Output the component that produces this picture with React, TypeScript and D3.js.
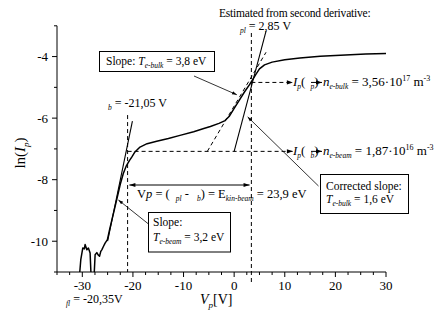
import React from 'react';
import * as d3 from 'd3';

// probe characteristic, ln(Ip) vs Vp
const probeCurve: [number, number][] = [
  [-30.7, -11.4], [-30.3, -10.6], [-29.9, -10.22], [-29.6, -10.25], [-29.45, -10.11],
  [-29.1, -10.28], [-28.8, -10.22], [-28.46, -10.38], [-28.2, -11.4], [-27.75, -11.4],
  [-27.47, -10.44], [-27.13, -10.37], [-26.85, -10.45], [-26.6, -10.49], [-26.35, -10.33],
  [-26.15, -10.28], [-25.83, -10.17], [-25.5, -10.06], [-25.04, -9.95], [-24.6, -9.62],
  [-24.0, -9.2], [-23.2, -8.65], [-22.5, -8.15], [-21.9, -7.8], [-21.3, -7.55],
  [-20.7, -7.38], [-20.2, -7.26], [-19.6, -7.1], [-18.6, -6.94], [-17.2, -6.83],
  [-15.3, -6.75], [-13, -6.66], [-10.7, -6.56], [-8, -6.44], [-6, -6.34],
  [-4.7, -6.27], [-3, -6.17], [-1.8, -6.08], [-1.0, -5.95], [0, -5.68],
  [1, -5.42], [2, -5.16], [3, -4.92], [3.5, -4.79], [4.2, -4.6],
  [5, -4.4], [6, -4.27], [7.5, -4.18], [10, -4.1], [13, -4.05],
  [17, -3.99], [22, -3.95], [26, -3.92], [30, -3.9],
];

// fitted lines (endpoints in data units)
const beamFit: [number, number][] = [[-25.0, -10.0], [-20.1, -6.1]];
const bulkCorrectedFit: [number, number][] = [[0.0, -7.08], [6.3, -3.17]];
const bulkTangent: [number, number][] = [[-5.3, -7.08], [6.3, -3.86]];

// characteristic potentials
const vBeam = -21.05;
const vPlasma = 3.4; // where the line sits on the plot (label says 2,85 V)
const lnBulk = -4.84;
const lnBeam = -7.08;
const arrowEnd = 11.6;

const xTicks = [-30, -20, -10, 0, 10, 20, 30];
const yTicks = [-10, -8, -6, -4];

const W = 442;
const H = 322;
const FONT = "'Liberation Serif', 'Times New Roman', Times, 'DejaVu Serif', serif";

export default function App() {
  const x = d3.scaleLinear().domain([-35, 30]).range([57, 386]);
  const y = d3.scaleLinear().domain([-11, -3]).range([272, 25.8]);
  const line = d3.line<[number, number]>().x(d => x(d[0])).y(d => y(d[1]));

  const xMinor = d3.range(-35, 30.01, 2.5);
  const yMinor = d3.range(-11, -2.99, 1);

  const sub = (s: string, dx = 0) => (
    <tspan fontSize={7.5} fontStyle="italic" dy={3} dx={dx}>{s}</tspan>
  );

  return (
    <svg width={W} height={H}
      style={{ position: 'absolute', left: 0, top: 0, background: '#fff', fontFamily: FONT }}>
      <defs>
        <marker id="ah" viewBox="0 0 10 10" refX={10} refY={5} markerWidth={7} markerHeight={6}
          orient="auto-start-reverse">
          <path d="M0,1.5 L10,5 L0,8.5 z" fill="#000" />
        </marker>
        <clipPath id="plot">
          <rect x={x(-35)} y={y(-3) - 20} width={x(30) - x(-35)} height={y(-11) - y(-3) + 20} />
        </clipPath>
      </defs>

      {/* axes */}
      <line x1={x(-35)} x2={x(30)} y1={y(-11)} y2={y(-11)} stroke="#000" />
      <line x1={x(-35)} x2={x(-35)} y1={y(-11)} y2={y(-3)} stroke="#000" />
      {xMinor.map(t => (
        <line key={'xm' + t} x1={x(t)} x2={x(t)} y1={y(-11)}
          y2={y(-11) + (xTicks.includes(t) ? 5 : 3)} stroke="#000" />
      ))}
      {yMinor.map(t => (
        <line key={'ym' + t} x1={x(-35)} x2={x(-35) - (yTicks.includes(t) ? 5 : 3)}
          y1={y(t)} y2={y(t)} stroke="#000" />
      ))}
      {xTicks.map(t => (
        <text key={'xl' + t} x={x(t)} y={290} fontSize={13} textAnchor="middle">{t}</text>
      ))}
      {yTicks.map(t => (
        <text key={'yl' + t} x={48} y={y(t) + 4.5} fontSize={13} textAnchor="end">{t}</text>
      ))}

      {/* axis titles */}
      <text x={200} y={304} fontSize={14}>
        <tspan fontStyle="italic">V</tspan>
        <tspan fontSize={9} fontStyle="italic" dy={4}>p</tspan>
        <tspan dy={-4}>[V]</tspan>
      </text>
      <text transform="translate(25,153) rotate(-90)" fontSize={15} textAnchor="middle">
        ln(<tspan fontStyle="italic">I</tspan>
        <tspan fontSize={9} fontStyle="italic" dy={4}>p</tspan>
        <tspan dy={-4}>)</tspan>
      </text>

      {/* dashed guide lines */}
      <g stroke="#000" strokeDasharray="4,3" fill="none">
        <line x1={x(vBeam)} x2={x(vBeam)} y1={y(-5.9)} y2={y(-11)} />
        <line x1={x(vPlasma)} x2={x(vPlasma)} y1={33} y2={283} />
        <line x1={x(vBeam)} x2={x(arrowEnd)} y1={y(lnBeam)} y2={y(lnBeam)} markerEnd="url(#ah)" />
        <line x1={x(vPlasma)} x2={x(arrowEnd)} y1={y(lnBulk)} y2={y(lnBulk)} markerEnd="url(#ah)" />
        <path d={line(bulkTangent) || ''} />
      </g>

      {/* fits and curve */}
      <g clipPath="url(#plot)" fill="none" stroke="#000">
        <path d={line(beamFit) || ''} strokeWidth={1.1} />
        <path d={line(bulkCorrectedFit) || ''} strokeWidth={1.1} />
        <path d={line(probeCurve) || ''} strokeWidth={1.5} strokeLinejoin="round" />
      </g>

      {/* energy double arrow */}
      <line x1={x(vBeam + 0.35)} x2={x(vPlasma - 0.35)} y1={185} y2={185} stroke="#000"
        markerStart="url(#ah)" markerEnd="url(#ah)" />
      <text x={137} y={198} fontSize={12.5}>
        V<tspan fontStyle="italic">p</tspan> = (
        {sub('pl', 6)}
        <tspan dy={-3}> -</tspan>
        {sub('b', 8)}
        <tspan dy={-3}>) = E</tspan>
        {sub('kin-beam')}
        <tspan dy={-3}> = 23,9 eV</tspan>
      </text>

      {/* potential labels */}
      <text x={219} y={16.5} fontSize={11.5} letterSpacing={-0.2}>Estimated from second derivative:</text>
      <text x={240} y={29.5} fontSize={12}>
        {sub('pl')}<tspan dy={-3}> = 2,85 V</tspan>
      </text>
      <text x={108} y={106.5} fontSize={12}>
        {sub('b')}<tspan dy={-3}> = -21,05 V</tspan>
      </text>
      <text x={66} y={303} fontSize={12}>
        {sub('fl')}<tspan dy={-3}> = -20,35V</tspan>
      </text>

      {/* density rows */}
      {[
        { ln: lnBulk, s: 'p', n: 'e-bulk', v: '3,56·10', e: '17' },
        { ln: lnBeam, s: 'b', n: 'e-beam', v: '1,87·10', e: '16' },
      ].map(r => {
        const by = y(r.ln) + 3.5;
        return (
          <g key={r.n}>
            <text x={293} y={by} fontSize={13}>
              <tspan fontStyle="italic">I</tspan>
              {sub('p')}
              <tspan dy={-3}>(</tspan>
              {sub(r.s, 5)}
              <tspan dy={-3}>)</tspan>
            </text>
            <line x1={311} x2={322} y1={by - 3.5} y2={by - 3.5} stroke="#000" markerEnd="url(#ah)" />
            <text x={323} y={by} fontSize={13}>
              <tspan fontStyle="italic">n</tspan>
              {sub(r.n)}
              <tspan dy={-3}> = {r.v}</tspan>
              <tspan fontSize={8} dy={-5}>{r.e}</tspan>
              <tspan dy={5}> m</tspan>
              <tspan fontSize={8} dy={-5}>-3</tspan>
            </text>
          </g>
        );
      })}

      {/* annotation boxes */}
      <g fill="#fff" stroke="#000">
        <rect x={99.5} y={51.5} width={115} height={20} />
        <rect x={148.5} y={212.5} width={82} height={39.5} />
        <rect x={320.5} y={174.5} width={88} height={39} />
      </g>
      <g stroke="#000" strokeWidth={0.8}>
        <line x1={194} y1={76} x2={x(0.53)} y2={y(-5.24)} markerEnd="url(#ah)" />
        <line x1={148.5} y1={224} x2={x(-22.87)} y2={y(-8.66)} markerEnd="url(#ah)" />
        <line x1={318.5} y1={186} x2={x(2.67)} y2={y(-5.96)} markerEnd="url(#ah)" />
      </g>
      <text x={106} y={64.5} fontSize={11.5}>
        Slope: <tspan fontStyle="italic">T</tspan>
        {sub('e-bulk')}
        <tspan dy={-3}> = 3,8 eV</tspan>
      </text>
      <text x={153} y={226} fontSize={11.5}>Slope:</text>
      <text x={153} y={241} fontSize={11.5}>
        <tspan fontStyle="italic">T</tspan>
        {sub('e-beam')}
        <tspan dy={-3}> = 3,2 eV</tspan>
      </text>
      <text x={326} y={189.5} fontSize={11.5}>Corrected slope:</text>
      <text x={326} y={203} fontSize={11.5}>
        <tspan fontStyle="italic">T</tspan>
        {sub('e-bulk')}
        <tspan dy={-3}> = 1,6 eV</tspan>
      </text>
    </svg>
  );
}
